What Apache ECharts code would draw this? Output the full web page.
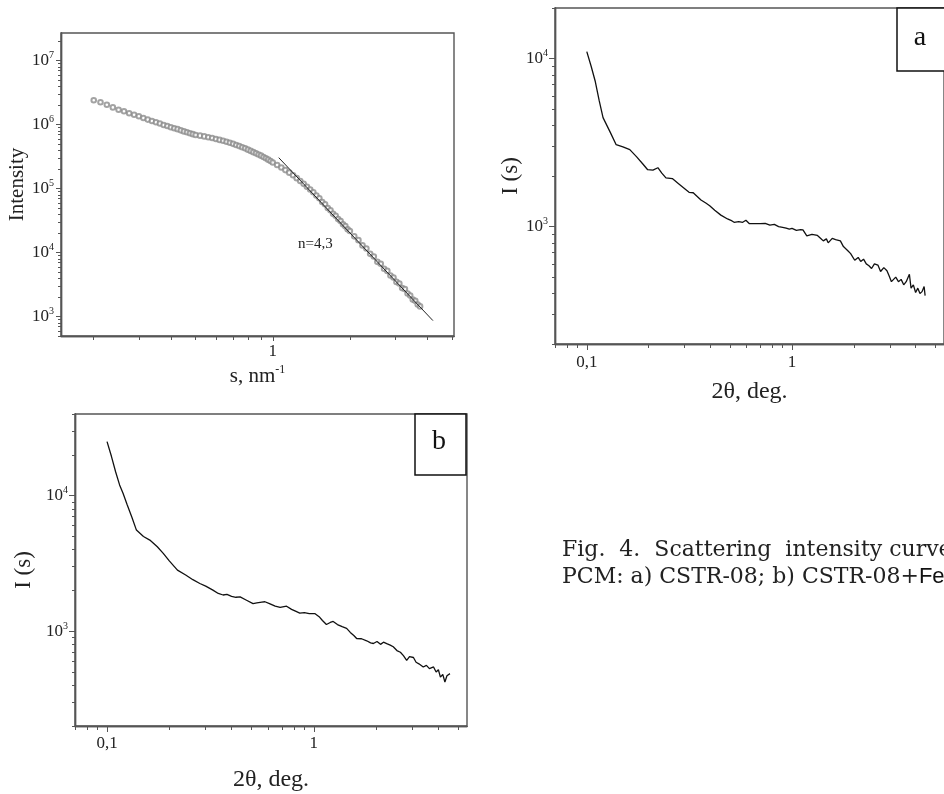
<!DOCTYPE html>
<html>
<head>
<meta charset="utf-8">
<script src="https://cdn.jsdelivr.net/npm/echarts@6/dist/echarts.min.js"></script>
<style>
html, body { margin: 0; padding: 0; background: #fff; overflow: hidden; }
#chart { width: 944px; height: 794px; }
</style>
</head>
<body>
<div id="chart"></div>
<script>
// top-left panel: intensity vs s (circles) and the power-law fit
var sValues = [0.200, 0.2125, 0.225, 0.2375, 0.250, 0.2625, 0.275, 0.2875, 0.300, 0.3125,
    0.325, 0.3375, 0.350, 0.3625, 0.375, 0.3875, 0.400, 0.4125, 0.425, 0.4375,
    0.450, 0.4625, 0.475, 0.4875, 0.500, 0.52, 0.54, 0.56, 0.58, 0.60,
    0.62, 0.64, 0.66, 0.68, 0.70, 0.72, 0.74, 0.76, 0.78, 0.80,
    0.82, 0.84, 0.86, 0.88, 0.90, 0.92, 0.94, 0.96, 0.98, 1.00,
    1.04, 1.08, 1.12, 1.16, 1.20, 1.24, 1.28, 1.32, 1.36, 1.40,
    1.44, 1.48, 1.52, 1.56, 1.60, 1.64, 1.68, 1.72, 1.76, 1.80,
    1.84, 1.88, 1.92, 1.96, 2.00, 2.08, 2.16, 2.24, 2.32, 2.40,
    2.48, 2.56, 2.64, 2.72, 2.80, 2.88, 2.96, 3.04, 3.12, 3.20,
    3.28, 3.36, 3.44, 3.52, 3.60, 3.68, 3.76];
var intensityValues = [2.40e6, 2.24e6, 2.04e6, 1.86e6, 1.71e6, 1.62e6, 1.51e6, 1.43e6, 1.35e6, 1.27e6,
    1.20e6, 1.14e6, 1.09e6, 1.04e6, 9.9e5, 9.5e5, 9.1e5, 8.8e5, 8.5e5, 8.15e5,
    7.85e5, 7.6e5, 7.35e5, 7.1e5, 6.9e5, 6.73e5, 6.55e5, 6.35e5, 6.17e5, 5.97e5,
    5.78e5, 5.6e5, 5.41e5, 5.21e5, 5.01e5, 4.82e5, 4.62e5, 4.44e5, 4.26e5, 4.07e5,
    3.89e5, 3.72e5, 3.56e5, 3.42e5, 3.28e5, 3.13e5, 2.99e5, 2.84e5, 2.70e5, 2.57e5,
    2.34e5, 2.14e5, 1.95e5, 1.78e5, 1.62e5, 1.46e5, 1.32e5, 1.19e5, 1.07e5, 9.7e4,
    8.8e4, 7.8e4, 7.1e4, 6.2e4, 5.7e4, 5.0e4, 4.6e4, 4.05e4, 3.78e4, 3.35e4,
    3.12e4, 2.78e4, 2.6e4, 2.32e4, 2.18e4, 1.80e4, 1.57e4, 1.30e4, 1.16e4, 9.6e3,
    8.7e3, 7.2e3, 6.7e3, 5.6e3, 5.2e3, 4.4e3, 4.1e3, 3.5e3, 3.3e3, 2.8e3,
    2.7e3, 2.3e3, 2.15e3, 1.85e3, 1.78e3, 1.55e3, 1.45e3];
var fitS = [1.055, 4.22];
var fitI = [3.05e5, 870];

// panel a: CSTR-08
var angleA = [0.100, 0.105, 0.110, 0.115, 0.120, 0.130, 0.139, 0.150, 0.162, 0.175,
    0.188, 0.198, 0.210, 0.222, 0.232, 0.243, 0.261, 0.280, 0.300, 0.315,
    0.330, 0.360, 0.380, 0.397, 0.420, 0.450, 0.485, 0.510, 0.522, 0.550,
    0.575, 0.596, 0.620, 0.660, 0.700, 0.740, 0.780, 0.820, 0.860, 0.900,
    0.936, 0.970, 1.00, 1.05, 1.10, 1.13, 1.18, 1.25, 1.33, 1.38,
    1.42, 1.47, 1.50, 1.57, 1.63, 1.72, 1.78, 1.87, 1.93, 2.02,
    2.10, 2.16, 2.23, 2.30, 2.37, 2.44, 2.52, 2.62, 2.70, 2.80,
    2.90, 2.97, 3.05, 3.10, 3.20, 3.30, 3.40, 3.50, 3.60, 3.73,
    3.80, 3.90, 4.00, 4.10, 4.20, 4.30, 4.40, 4.45];
var intensityA = [1.10e4, 9.0e3, 7.3e3, 5.6e3, 4.45e3, 3.65e3, 3.07e3, 2.98e3, 2.87e3, 2.60e3,
    2.35e3, 2.18e3, 2.17e3, 2.24e3, 2.08e3, 1.95e3, 1.93e3, 1.80e3, 1.68e3, 1.60e3,
    1.59e3, 1.44e3, 1.38e3, 1.33e3, 1.25e3, 1.17e3, 1.11e3, 1.08e3, 1.06e3, 1.07e3,
    1.06e3, 1.09e3, 1.04e3, 1.04e3, 1.04e3, 1.045e3, 1.02e3, 1.03e3, 1.00e3, 990,
    980, 965, 975, 950, 960, 955, 880, 900, 885, 850,
    822, 845, 800, 850, 835, 822, 760, 718, 690, 630,
    655, 620, 640, 600, 585, 563, 600, 590, 540, 570,
    546, 510, 470, 465, 500, 470, 485, 450, 470, 520,
    430, 450, 405, 430, 400, 410, 440, 388];

// panel b: CSTR-08+Fe
var angleB = [0.100, 0.105, 0.110, 0.115, 0.1195, 0.125, 0.132, 0.1387, 0.150, 0.161,
    0.175, 0.187, 0.200, 0.219, 0.240, 0.260, 0.281, 0.300, 0.325, 0.345,
    0.364, 0.380, 0.400, 0.420, 0.440, 0.470, 0.508, 0.530, 0.560, 0.580,
    0.610, 0.650, 0.687, 0.738, 0.780, 0.820, 0.855, 0.900, 0.950, 1.01,
    1.06, 1.10, 1.15, 1.20, 1.24, 1.30, 1.37, 1.44, 1.50, 1.56,
    1.61, 1.70, 1.80, 1.88, 1.94, 2.02, 2.10, 2.17, 2.25, 2.34,
    2.42, 2.52, 2.62, 2.71, 2.81, 2.90, 3.03, 3.12, 3.22, 3.38,
    3.50, 3.62, 3.79, 3.90, 4.00, 4.09, 4.20, 4.30, 4.40, 4.48, 4.55];
var intensityB = [2.5e4, 1.95e4, 1.5e4, 1.2e4, 1.04e4, 8.6e3, 6.9e3, 5.57e3, 5.0e3, 4.7e3,
    4.2e3, 3.75e3, 3.3e3, 2.82e3, 2.6e3, 2.4e3, 2.25e3, 2.15e3, 2.01e3, 1.9e3,
    1.85e3, 1.87e3, 1.81e3, 1.78e3, 1.79e3, 1.70e3, 1.60e3, 1.62e3, 1.64e3, 1.65e3,
    1.60e3, 1.53e3, 1.50e3, 1.53e3, 1.45e3, 1.40e3, 1.36e3, 1.37e3, 1.35e3, 1.35e3,
    1.28e3, 1.20e3, 1.12e3, 1.16e3, 1.18e3, 1.12e3, 1.08e3, 1.05e3, 980, 930,
    883, 880, 850, 820, 812, 840, 800, 830, 810, 790,
    768, 720, 700, 660, 610, 650, 640, 590, 575, 545,
    560, 530, 545, 500, 520, 459, 480, 422, 470, 460, 487];

// axis ranges and labelled ticks
var range1X = [0.149, 5.1], range1Y = [500, 2.7e7];
var rangeAX = [0.07, 5.5], rangeAY = [200, 2.0e4];
var rangeBX = [0.07, 5.5], rangeBY = [200, 4.0e4];
var majorX1 = [1];
var majorY1 = [1e3, 1e4, 1e5, 1e6, 1e7];
var majorXab = [0.1, 1];
var majorYab = [1e3, 1e4];

var serif = '"Liberation Serif", "Times New Roman", serif';

function lg(v) { return Math.log10(v); }
function zip(a, b) { return a.map(function (v, i) { return [v, b[i]]; }); }
function minorTicks(r) {
    var out = [];
    for (var e = Math.floor(lg(r[0])); e <= Math.ceil(lg(r[1])); e++) {
        for (var k = 2; k <= 9; k++) {
            var v = k * Math.pow(10, e);
            if (v >= r[0] && v <= r[1]) out.push(lg(v));
        }
    }
    return out;
}

var powRich = {
    b: { fontSize: 17, fontFamily: serif, color: '#222', lineHeight: 20 },
    s: { fontSize: 10, fontFamily: serif, color: '#222', verticalAlign: 'top', lineHeight: 10 }
};
function powLabel(v) { return '{b|10}{s|' + Math.round(v) + '}'; }
function angleLabel(v) { return Math.round(v) === -1 ? '0,1' : '1'; }

// hidden log axis that carries the data
function dataAxis(grid, pos, r) {
    return { type: 'log', logBase: 10, gridIndex: grid, position: pos, min: r[0], max: r[1], show: false };
}
// visible axis drawn in log10 units: ticks only where wanted
function tickAxis(grid, pos, r, vals, len, label, extra) {
    var ax = {
        type: 'value', gridIndex: grid, position: pos, min: lg(r[0]), max: lg(r[1]),
        axisLine: { show: true, onZero: false, lineStyle: { color: '#555', width: 1.4 } },
        axisTick: { show: true, customValues: vals, length: len, lineStyle: { color: '#555', width: 1 } },
        axisLabel: label ? Object.assign({ customValues: vals }, label) : { show: false },
        splitLine: { show: false }
    };
    return Object.assign(ax, extra || {});
}

var nameStyle = { fontFamily: serif, color: '#222' };

var xAxes = [
    dataAxis(0, 'bottom', range1X),
    tickAxis(0, 'bottom', range1X, majorX1.map(lg), 5,
        { margin: 7, fontSize: 17, fontFamily: serif, color: '#222', formatter: function () { return '1'; } },
        { name: '{n|s, nm}{s|-1}', nameLocation: 'middle', nameGap: 28,
          nameTextStyle: { rich: { n: { fontSize: 21, fontFamily: serif, color: '#222', lineHeight: 24 },
                                   s: { fontSize: 12, fontFamily: serif, color: '#222', verticalAlign: 'top', lineHeight: 12 } } } }),
    tickAxis(0, 'bottom', range1X, minorTicks(range1X), 4, null),
    dataAxis(1, 'bottom', rangeAX),
    tickAxis(1, 'bottom', rangeAX, majorXab.map(lg), 6,
        { margin: 10, fontSize: 17, fontFamily: serif, color: '#222', formatter: angleLabel },
        { name: '2θ, deg.', nameLocation: 'middle', nameGap: 36,
          nameTextStyle: Object.assign({ fontSize: 24 }, nameStyle) }),
    tickAxis(1, 'bottom', rangeAX, minorTicks(rangeAX), 4, null),
    dataAxis(2, 'bottom', rangeBX),
    tickAxis(2, 'bottom', rangeBX, majorXab.map(lg), 6,
        { margin: 9, fontSize: 17, fontFamily: serif, color: '#222', formatter: angleLabel },
        { name: '2θ, deg.', nameLocation: 'middle', nameGap: 42,
          nameTextStyle: Object.assign({ fontSize: 24 }, nameStyle) }),
    tickAxis(2, 'bottom', rangeBX, minorTicks(rangeBX), 4, null)
];

var yAxes = [
    dataAxis(0, 'left', range1Y),
    tickAxis(0, 'left', range1Y, majorY1.map(lg), 5,
        { margin: 7, formatter: powLabel, rich: powRich },
        { name: 'Intensity', nameLocation: 'middle', nameGap: 30,
          nameTextStyle: Object.assign({ fontSize: 21 }, nameStyle) }),
    tickAxis(0, 'left', range1Y, minorTicks(range1Y), 3, null),
    dataAxis(1, 'left', rangeAY),
    tickAxis(1, 'left', rangeAY, majorYab.map(lg), 6,
        { margin: 7, formatter: powLabel, rich: powRich },
        { name: 'I (s)', nameLocation: 'middle', nameGap: 32,
          nameTextStyle: Object.assign({ fontSize: 23 }, nameStyle) }),
    tickAxis(1, 'left', rangeAY, minorTicks(rangeAY), 3, null),
    dataAxis(2, 'left', rangeBY),
    tickAxis(2, 'left', rangeBY, majorYab.map(lg), 6,
        { margin: 7, formatter: powLabel, rich: powRich },
        { name: 'I (s)', nameLocation: 'middle', nameGap: 40,
          nameTextStyle: Object.assign({ fontSize: 23 }, nameStyle) }),
    tickAxis(2, 'left', rangeBY, minorTicks(rangeBY), 3, null)
];

var gridStyle = { show: true, borderColor: '#555', borderWidth: 1.4, backgroundColor: 'transparent' };
var captionFont = '22px "DejaVu Serif", serif';

var chart = echarts.init(document.getElementById('chart'));
var option = {
    animation: false,
    backgroundColor: '#fff',
    grid: [
        Object.assign({ left: 61, top: 33, width: 393, height: 303 }, gridStyle),
        Object.assign({ left: 555, top: 8, width: 397, height: 336 }, gridStyle),
        Object.assign({ left: 75, top: 414, width: 392, height: 312 }, gridStyle)
    ],
    xAxis: xAxes,
    yAxis: yAxes,
    series: [
        {
            type: 'scatter', xAxisIndex: 0, yAxisIndex: 0,
            symbol: 'emptyCircle', symbolSize: 4.6,
            itemStyle: { color: '#8c8c8c', borderWidth: 0.7 },
            data: zip(sValues, intensityValues)
        },
        {
            type: 'line', xAxisIndex: 0, yAxisIndex: 0, showSymbol: false,
            lineStyle: { color: '#222', width: 1 },
            data: zip(fitS, fitI)
        },
        {
            type: 'line', xAxisIndex: 3, yAxisIndex: 3, showSymbol: false,
            lineStyle: { color: '#111', width: 1.3 },
            data: zip(angleA, intensityA)
        },
        {
            type: 'line', xAxisIndex: 6, yAxisIndex: 6, showSymbol: false,
            lineStyle: { color: '#111', width: 1.3 },
            data: zip(angleB, intensityB)
        }
    ],
    graphic: [
        { type: 'text', left: 298, top: 237, style: { text: 'n=4,3', font: '15px ' + serif, fill: '#222' } },
        { type: 'rect', shape: { x: 897, y: 8, width: 52, height: 63 }, style: { fill: '#fff', stroke: '#111', lineWidth: 1.5 } },
        { type: 'text', x: 920, y: 38, style: { text: 'a', font: '28px ' + serif, fill: '#111', align: 'center', verticalAlign: 'middle' } },
        { type: 'rect', shape: { x: 415, y: 414, width: 51, height: 61 }, style: { fill: '#fff', stroke: '#111', lineWidth: 1.5 } },
        { type: 'text', x: 439, y: 442, style: { text: 'b', font: '28px ' + serif, fill: '#111', align: 'center', verticalAlign: 'middle' } },
        { type: 'text', x: 562, y: 550, style: { text: 'Fig.  4.  Scattering  intensity curve', font: captionFont, fill: '#222', verticalAlign: 'middle' } },
        { type: 'text', x: 562, y: 577, style: {
            text: '{t|PCM: a) CSTR-08; b) CSTR-08+}{f|Fe}',
            verticalAlign: 'middle',
            rich: {
                t: { font: captionFont, fill: '#222' },
                f: { font: '22px "Liberation Sans", Arial, sans-serif', fill: '#111' }
            }
        } }
    ]
};
chart.setOption(option);
</script>
</body>
</html>
